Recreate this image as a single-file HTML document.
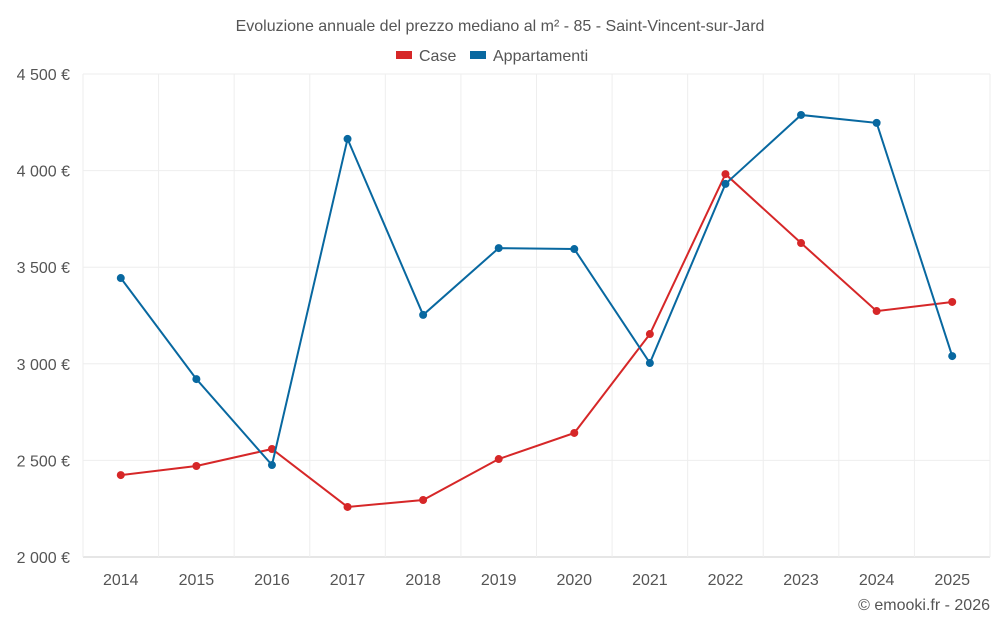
<!DOCTYPE html>
<html><head><meta charset="utf-8"><style>
body{margin:0;background:#fff;font-family:"Liberation Sans",sans-serif;}
svg text{font-family:"Liberation Sans",sans-serif;}
</style></head><body>
<svg id="c" width="1000" height="625">
<text x="500" y="31" text-anchor="middle" font-size="16" fill="#555">Evoluzione annuale del prezzo mediano al m² - 85 - Saint-Vincent-sur-Jard</text>
<g>
<rect x="396" y="51" width="16" height="8" fill="#d62728"/>
<text x="419" y="61" font-size="16" fill="#555">Case</text>
<rect x="470" y="51" width="16" height="8" fill="#0868a0"/>
<text x="493" y="61" font-size="16" fill="#555">Appartamenti</text>
</g>
<g id="grid"></g><g id="series"></g>
<text x="990" y="610" text-anchor="end" font-size="16" fill="#555">© emooki.fr - 2026</text>
</svg>
<script>
const years=[2014,2015,2016,2017,2018,2019,2020,2021,2022,2023,2024,2025];
const caseVals=[2424,2471,2559,2259,2295,2507,2642,3154,3982,3625,3273,3320];
const appVals=[3444,2921,2476,4164,3253,3599,3594,3004,3931,4288,4247,3040];
const yTicks=[2000,2500,3000,3500,4000,4500];
const yTickLabels=["2 000 €","2 500 €","3 000 €","3 500 €","4 000 €","4 500 €"];
const ns="http://www.w3.org/2000/svg";
const L=83,R=990,T=74,B=557;
const step=(R-L)/years.length;
const x=i=>L+step*(i+0.5);
const y=v=>B-(v-2000)/2500*(B-T);
function mk(tag,attrs,parent){const e=document.createElementNS(ns,tag);for(const k in attrs)e.setAttribute(k,attrs[k]);parent.appendChild(e);return e;}
const g=document.getElementById('grid'),s=document.getElementById('series');
yTicks.forEach((v,i)=>{
 const l=mk('line',{x1:L,x2:R,y1:y(v),y2:y(v),stroke:i==0?'#ccc':'#eee'},g);
 
 
 const t=mk('text',{x:70,y:y(v)+6,'text-anchor':'end','font-size':16,fill:'#555'},g);
 t.textContent=yTickLabels[i];
 
 
});
for(let i=0;i<=years.length;i++){
 const l=mk('line',{x1:L+step*i,x2:L+step*i,y1:T,y2:B,stroke:'#eee'},g);
 
 
}
years.forEach((yr,i)=>{
 const t=mk('text',{x:x(i),y:585,'text-anchor':'middle','font-size':16,fill:'#555'},g);
 t.textContent=yr;
 
 
});
function series(vals,color,name){
 const p=mk('polyline',{points:vals.map((v,i)=>x(i)+','+y(v)).join(' '),fill:'none',stroke:color,'stroke-width':2},s);
 
 
 vals.forEach((v,i)=>{
  const c=mk('circle',{cx:x(i),cy:y(v),r:4,fill:color},s);
  
  
 });
}
series(caseVals,'#d62728','case');
series(appVals,'#0868a0','appartamenti');
</script>
</body></html>
